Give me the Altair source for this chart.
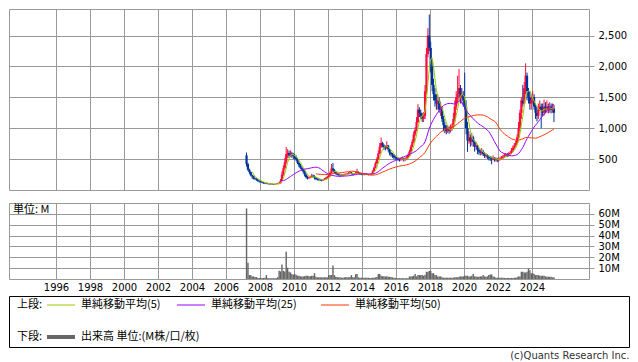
import altair as alt
import pandas as pd
import numpy as np

# ---------------- data (monthly, from 2007-03 to 2025-04) ----------------
start_year, start_month = 2007, 3

close = [
    420, 330, 290, 240, 220, 190, 180, 170, 150, 140,                      # 2007 Mar-Dec
    130, 120, 110, 105, 110, 100, 95, 100, 95, 90, 95, 100,                # 2008
    105, 110, 150, 250, 350, 450, 580, 600, 560, 590, 560, 550,            # 2009
    520, 500, 440, 400, 360, 330, 300, 250, 210, 190, 200, 210,            # 2010
    230, 220, 200, 180, 170, 165, 160, 155, 165, 175, 190, 210,            # 2011
    230, 280, 350, 320, 290, 260, 250, 245, 240, 245, 240, 250,            # 2012
    255, 260, 270, 280, 265, 255, 260, 270, 290, 270, 260, 255,            # 2013
    255, 250, 250, 255, 250, 255, 260, 300, 360, 430, 500, 590,            # 2014
    700, 760, 720, 690, 680, 720, 660, 600, 580, 560, 530, 520,            # 2015
    510, 500, 490, 500, 510, 490, 500, 520, 560, 620, 700, 780,            # 2016
    900, 970, 1100, 1300, 1250, 1200, 1150, 1200, 1600, 2200, 2500, 2300,  # 2017
    2000, 1700, 1550, 1450, 1400, 1450, 1300, 1320, 1150, 1050, 1000, 950, # 2018
    980, 960, 1000, 1020, 1150, 1350, 1500, 1550, 1650, 1500, 1550, 1450,  # 2019
    1350, 1000, 800, 850, 780, 850, 780, 700, 720, 650, 620, 600,          # 2020
    620, 580, 550, 560, 540, 520, 510, 500, 520, 490, 500, 480,            # 2021
    500, 510, 520, 540, 560, 570, 560, 580, 600, 640, 680, 720,            # 2022
    760, 850, 1000, 1250, 1450, 1400, 1650, 1850, 1600, 1500, 1400, 1450,  # 2023
    1500, 1350, 1250, 1200, 1300, 1350, 1300, 1250, 1350, 1300, 1350, 1300,# 2024
    1350, 1300, 1320, 1250,                                                # 2025 Jan-Apr
]

open_ = [
    560, 420, 330, 290, 240, 220, 190, 180, 170, 150,
    140, 130, 120, 110, 105, 110, 100, 95, 100, 95, 90, 95,
    100, 105, 110, 150, 250, 350, 450, 580, 600, 560, 590, 560,
    550, 520, 500, 440, 400, 360, 330, 300, 250, 210, 190, 200,
    210, 230, 220, 200, 180, 170, 165, 160, 155, 165, 175, 190,
    210, 230, 280, 350, 320, 290, 260, 250, 245, 240, 245, 240,
    250, 255, 260, 270, 280, 265, 255, 260, 270, 290, 270, 260,
    255, 255, 250, 250, 255, 250, 255, 260, 300, 360, 430, 500,
    590, 700, 760, 720, 690, 680, 720, 660, 600, 580, 560, 530,
    520, 510, 500, 490, 500, 510, 490, 500, 520, 560, 620, 700,
    780, 900, 970, 1100, 1300, 1250, 1200, 1150, 1200, 1600, 2200, 2500,
    2300, 2000, 1700, 1550, 1450, 1400, 1450, 1300, 1320, 1150, 1050, 1000,
    950, 980, 960, 1000, 1020, 1150, 1350, 1500, 1550, 1650, 1500, 1550,
    1450, 1350, 1000, 800, 850, 780, 850, 780, 700, 720, 650, 620,
    600, 620, 580, 550, 560, 540, 520, 510, 500, 520, 490, 500,
    480, 500, 510, 520, 540, 560, 570, 560, 580, 600, 640, 680,
    720, 760, 850, 1000, 1250, 1450, 1400, 1650, 1850, 1600, 1500, 1400,
    1450, 1500, 1350, 1250, 1200, 1300, 1350, 1300, 1250, 1350, 1300, 1350,
    1300, 1350, 1300, 1320,
]

high = [
    607, 440, 345, 300, 250, 230, 200, 190, 175, 155,
    150, 140, 130, 120, 125, 115, 110, 110, 105, 100, 105, 110,
    115, 130, 180, 300, 400, 520, 694, 660, 640, 640, 620, 600,
    580, 560, 520, 460, 420, 380, 350, 320, 270, 230, 220, 230,
    262, 250, 240, 210, 190, 185, 180, 170, 180, 195, 210, 230,
    250, 300, 420, 437, 340, 300, 275, 265, 260, 260, 255, 265,
    270, 275, 290, 300, 290, 275, 275, 300, 345, 300, 280, 270,
    270, 265, 262, 268, 262, 265, 275, 320, 380, 460, 530, 640,
    760, 849, 780, 740, 720, 790, 730, 670, 620, 600, 580, 560,
    540, 530, 520, 530, 540, 520, 530, 550, 590, 650, 730, 820,
    950, 1020, 1180, 1390, 1340, 1300, 1250, 1260, 1700, 2300, 2620, 2840,
    2400, 2100, 1800, 1650, 1550, 1550, 1500, 1420, 1350, 1200, 1100, 1050,
    1050, 1030, 1060, 1080, 1250, 1450, 1600, 1850, 1960, 1700, 1650, 1600,
    1900, 1450, 1100, 950, 900, 925, 880, 800, 780, 730, 680, 660,
    680, 650, 610, 600, 580, 560, 550, 540, 560, 530, 530, 520,
    530, 540, 550, 570, 590, 600, 600, 610, 630, 680, 720, 760,
    800, 900, 1100, 1300, 1500, 1700, 1750, 2050, 1900, 1650, 1600, 1550,
    1600, 1550, 1400, 1350, 1400, 1450, 1400, 1400, 1465, 1420, 1450, 1400,
    1420, 1400, 1400, 1380,
]

low = [
    380, 310, 260, 220, 180, 170, 160, 150, 130, 120,
    120, 110, 100, 95, 95, 90, 85, 88, 85, 80, 85, 90,
    95, 100, 105, 140, 230, 330, 420, 520, 520, 530, 520, 500,
    490, 470, 420, 370, 340, 310, 270, 220, 185, 170, 180, 190,
    200, 200, 170, 160, 155, 150, 145, 140, 150, 160, 170, 185,
    200, 220, 270, 300, 270, 250, 235, 230, 225, 230, 225, 235,
    240, 245, 250, 260, 250, 240, 245, 255, 265, 255, 245, 240,
    240, 238, 240, 243, 238, 242, 248, 255, 295, 350, 420, 490,
    580, 680, 690, 650, 640, 660, 620, 560, 540, 520, 500, 490,
    480, 470, 460, 470, 480, 460, 470, 490, 510, 550, 610, 690,
    760, 870, 950, 1080, 1180, 1150, 1100, 1100, 1150, 1550, 2150, 2250,
    1900, 1600, 1450, 1350, 1300, 1300, 1250, 1200, 1100, 950, 920, 900,
    920, 910, 930, 960, 1000, 1100, 1300, 1400, 1450, 1400, 1400, 1350,
    1300, 900, 617, 750, 700, 720, 700, 620, 650, 580, 570, 560,
    570, 550, 520, 520, 500, 480, 470, 416, 480, 460, 460, 450,
    460, 480, 490, 500, 520, 540, 530, 540, 560, 580, 620, 660,
    700, 740, 830, 950, 1150, 1350, 1380, 1550, 1450, 1400, 1300, 1300,
    1400, 1300, 1150, 1110, 1150, 1280, 1000, 1200, 1200, 1240, 1250, 1240,
    1250, 1240, 1250, 1100,
]

volume_m = [
    65, 15, 3.6, 3.6, 2.4, 2.4, 1.8, 1.8, 1.0, 1.0,
    1.0, 1.0, 1.0, 1.2, 3.6, 1.0, 0.7, 0.7, 0.6, 0.7, 0.6, 0.8,
    1.5, 7.5, 7.0, 13.4, 7.5, 7.0, 25, 10.4, 6.6, 6.0, 4.5, 4.0,
    4.5, 4.0, 3.0, 3.0, 2.5, 2.4, 2.4, 2.6, 3.0, 3.0, 2.5, 2.5,
    3.0, 3.0, 5.4, 2.0, 1.5, 1.5, 1.5, 1.4, 1.5, 1.5, 1.5, 1.5,
    3.6, 3.6, 3.6, 12.5, 3.6, 2.0, 1.8, 1.5, 1.5, 1.2, 1.2, 1.5,
    1.5, 1.5, 1.5, 1.8, 3.6, 1.5, 1.5, 4.5, 4.5, 1.5, 1.2, 1.2,
    1.2, 1.2, 1.2, 1.2, 1.2, 1.0, 1.0, 1.2, 1.2, 1.5, 1.8, 4.5,
    4.5, 3.0, 2.5, 2.5, 2.2, 2.5, 2.0, 2.0, 1.8, 1.5, 1.2, 1.0,
    1.0, 0.8, 0.8, 0.8, 0.8, 0.8, 0.8, 0.8, 0.8, 2.4, 2.4, 2.4,
    3.0, 4.5, 2.4, 3.6, 3.6, 3.6, 3.6, 3.0, 3.6, 6.6, 6.6, 7.5,
    7.5, 5.4, 5.4, 3.6, 3.6, 2.4, 2.4, 2.4, 1.5, 1.2, 1.2, 1.2,
    1.2, 1.2, 1.2, 1.2, 1.2, 1.5, 1.5, 1.5, 2.0, 2.4, 2.4, 2.4,
    3.0, 3.0, 3.0, 2.4, 2.4, 3.0, 4.5, 2.4, 2.4, 2.0, 2.0, 2.4,
    2.4, 3.6, 2.4, 2.0, 2.4, 3.6, 4.2, 4.2, 2.4, 2.0, 1.2, 1.2,
    1.2, 1.2, 1.2, 1.2, 1.0, 1.0, 1.0, 1.0, 1.0, 1.0, 1.0, 1.2,
    1.2, 1.5, 2.4, 2.4, 6.6, 6.6, 6.0, 6.0, 6.6, 9.6, 8.0, 5.4,
    5.4, 4.5, 3.6, 3.6, 3.6, 3.0, 3.0, 3.0, 3.0, 2.4, 2.0, 2.0,
    2.0, 2.0, 1.5, 1.5,
]

year_ticks = list(range(1996, 2025, 2))
price_ticks = [500, 1000, 1500, 2000, 2500]
volume_ticks = [10, 20, 30, 40, 50, 60]
ma_windows = [5, 25, 50]
ma_labels = ["単純移動平均(5)", "単純移動平均(25)", "単純移動平均(50)"]
ma_colors = ["#99cc00", "#9900ff", "#ff3300"]
up_color, down_color = "#ff0a3c", "#003399"
volume_label = "出来高 単位:(M株/口/枚)"

# ---------------- table ----------------
n = len(close)
ym = [(start_year + (start_month - 1 + i) // 12, (start_month - 1 + i) % 12 + 1) for i in range(n)]
df = pd.DataFrame({
    "t0": [y + (m - 1) / 12 for y, m in ym],
    "open": open_, "high": high, "low": low, "close": close, "vol": volume_m,
})
df["t"] = df["t0"] + 1 / 24
df["t1"] = df["t0"] + 1 / 12
df["dir"] = np.where(df["close"] >= df["open"], "up", "down")

ma_frames = []
for w in ma_windows:
    f = pd.DataFrame({"t": df["t"], "ma": df["close"].rolling(w).mean(), "series": str(w)})
    ma_frames.append(f.dropna())
ma_df = pd.concat(ma_frames, ignore_index=True)

W = 580
x_scale = alt.Scale(domain=[1993.235, 2027.353], nice=False, zero=False)
grid_gray = "#999999"
num_font = "DejaVu Sans"
jp_font = "Noto Sans CJK JP"

x_nolabel = alt.Axis(values=year_ticks, grid=True, labels=False, ticks=False, domain=False, title=None)
dir_color = alt.Color("dir:N", scale=alt.Scale(domain=["up", "down"], range=[up_color, down_color]), legend=None)
price_axis = alt.Axis(orient="right", values=price_ticks, labelExpr="format(datum.value, ',')",
                      grid=True, title=None, domain=False, tickSize=5, labelPadding=4, labelOverlap=False)

base = alt.Chart(df)
wick = base.mark_rule(strokeWidth=1).encode(
    x=alt.X("t:Q", scale=x_scale, axis=x_nolabel),
    y=alt.Y("low:Q", scale=alt.Scale(domain=[0, 2930], nice=False), axis=price_axis),
    y2="high:Q",
    color=dir_color,
)
body = base.mark_rule(strokeWidth=2.2).encode(
    x=alt.X("t:Q", scale=x_scale, axis=x_nolabel),
    y=alt.Y("open:Q", scale=alt.Scale(domain=[0, 2930], nice=False), axis=price_axis),
    y2="close:Q",
    color=dir_color,
)
ma_lines = alt.Chart(ma_df).mark_line(strokeWidth=1, interpolate="linear").encode(
    x=alt.X("t:Q", scale=x_scale, axis=x_nolabel),
    y=alt.Y("ma:Q", scale=alt.Scale(domain=[0, 2930], nice=False), axis=price_axis),
    color=alt.Color("series:N", scale=alt.Scale(domain=[str(w) for w in ma_windows], range=ma_colors), legend=None),
    detail="series:N",
)
price = alt.layer(wick, body, ma_lines).resolve_scale(color="independent").properties(width=W, height=181)

vol_bars = base.mark_bar(color="#666666").encode(
    x=alt.X("t0:Q", scale=x_scale,
            axis=alt.Axis(values=year_ticks, format="d", grid=True, ticks=False, domain=False, title=None,
                          labelPadding=3, labelOverlap=False, labelFlush=False)),
    x2="t1:Q",
    y=alt.Y("vol:Q", scale=alt.Scale(domain=[0, 70], nice=False),
            axis=alt.Axis(orient="right", values=volume_ticks, labelExpr="datum.value + 'M'", grid=True,
                          title=None, domain=False, tickSize=5, labelPadding=4, labelOverlap=False)),
    y2=alt.datum(0),
)
unit_text = alt.Chart(alt.Data(values=[{}])).mark_text(
    align="left", baseline="middle", font=jp_font, fontSize=11, color="black"
).encode(x=alt.value(4), y=alt.value(7), text=alt.value("単位: M"))
volume = alt.layer(vol_bars, unit_text).properties(width=W, height=76)

# ---------------- legend box ----------------
one = alt.Data(values=[{}])
def txt(s, x, y):
    return alt.Chart(one).mark_text(align="left", baseline="middle", font=jp_font, fontSize=11,
                                    color="black").encode(x=alt.value(x), y=alt.value(y), text=alt.value(s))
def seg(x1, x2, y, color, width):
    return alt.Chart(one).mark_rule(color=color, strokeWidth=width).encode(
        x=alt.value(x1), x2=alt.value(x2), y=alt.value(y))

row1, row2 = 9, 41
leg_layers = [txt("上段:", 8, row1), txt("下段:", 8, row2)]
for (lx, tx), lab, col in zip([(38, 72), (168, 202), (312, 346)], ma_labels, ma_colors):
    leg_layers.append(seg(lx, lx + 28, row1, col, 1))
    leg_layers.append(txt(lab, tx, row1))
leg_layers.append(seg(38, 66, row2, "#666666", 4))
leg_layers.append(txt(volume_label, 72, row2))
legend = alt.layer(*leg_layers).properties(
    width=620, height=51, view=alt.ViewBackground(stroke="black", strokeWidth=1)
)

chart = alt.vconcat(
    alt.vconcat(price, volume, spacing=11),
    legend,
    spacing=2,
).properties(
    padding=0,
    title=alt.TitleParams("(c)Quants Research Inc.", orient="bottom", anchor="end", fontSize=10,
                          font=num_font, fontWeight="normal", color="#333333", offset=3),
).configure_view(
    stroke=grid_gray, strokeWidth=1
).configure_axis(
    gridColor=grid_gray, gridWidth=1, gridOpacity=1, tickColor=grid_gray,
    labelFont=num_font, labelFontSize=10, labelColor="#000000",
)

chart.save("out.html", embed_options={"renderer": "svg", "actions": False})
